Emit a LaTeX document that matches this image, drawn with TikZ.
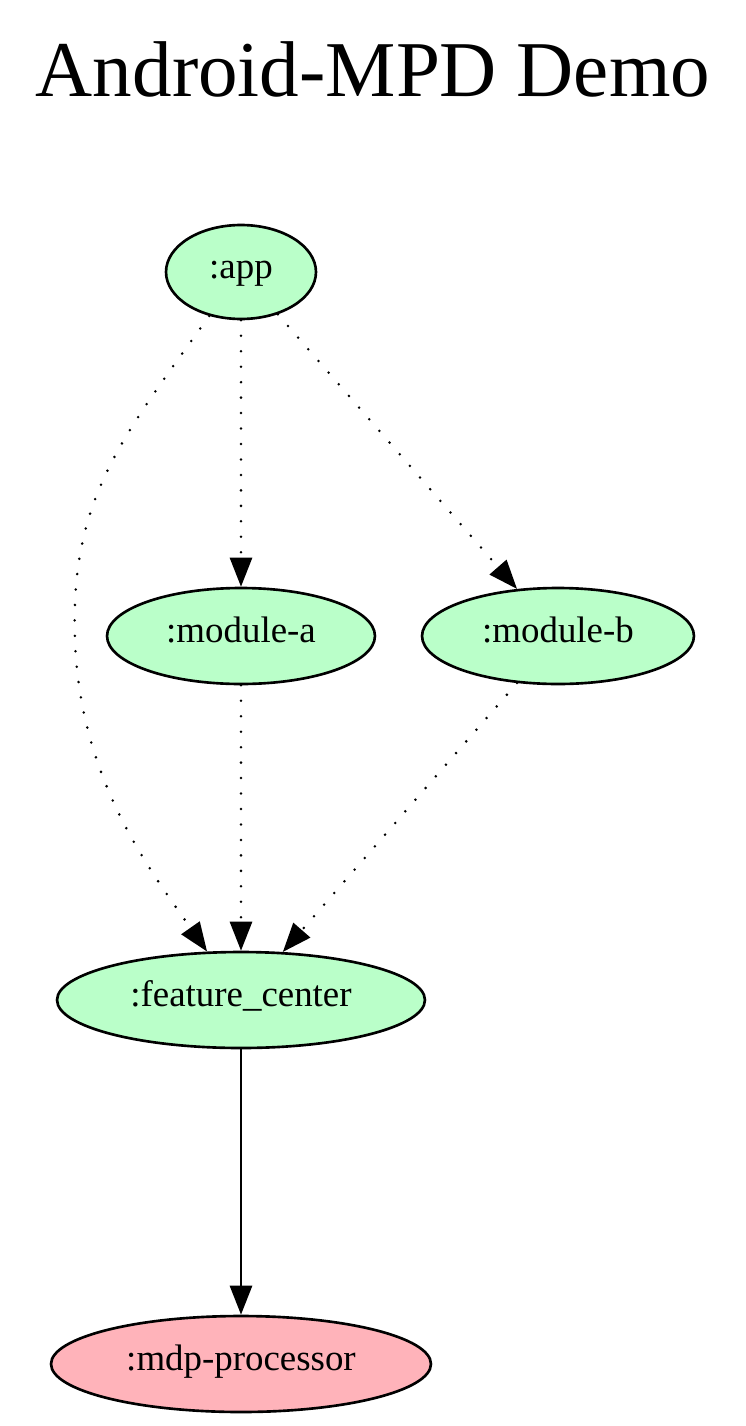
\documentclass[tikz,border=0pt]{standalone}
\usepackage{fontspec}
\setmainfont{Liberation Serif}
\usetikzlibrary{arrows.meta, positioning, shapes.geometric}
\definecolor{ModGreen}{HTML}{BAFFC9}
\definecolor{ProcPink}{HTML}{FFB3BA}

\begin{document}
\begin{tikzpicture}[x=0.02cm, y=-0.02cm,
    modnode/.style={ellipse, draw=black, line width=1.5pt, fill=ModGreen, inner sep=0pt,
        minimum height=1.92cm, font=\fontsize{21}{25}\selectfont, text height=0.9em, text depth=0.2em},
    depline/.style={line width=1.6pt, -{Triangle[length=0.58cm, width=0.44cm]}},
    dotline/.style={depline, line cap=round, dash pattern=on 0pt off 8.8pt}]
    \useasboundingbox (0,0) rectangle (746,1426);

    \node[anchor=base, font=\fontsize{45}{54}\selectfont] (title) at (373,96) {Android-MPD Demo};

    \node[modnode, minimum width=3.0cm, minimum height=1.88cm] (app) at (241,272) {:app};
    \node[modnode, minimum width=5.36cm] (moda) at (241,636) {:module-a};
    \node[modnode, minimum width=5.44cm] (modb) at (558,636) {:module-b};
    \node[modnode, minimum width=7.36cm] (feat) at (241,1000) {:feature\_center};
    \node[modnode, minimum width=7.6cm, fill=ProcPink] (proc) at (241,1364) {:mdp-processor};

    \coordinate (bend) at (75,640);

    \draw[dotline] (app) -- (moda);
    \draw[dotline] (app) -- (modb);
    \draw[dotline] (app) .. controls (120,440) and (70,500) .. (bend)
        .. controls (80,780) and (150,870) .. (feat);
    \draw[dotline] (moda) -- (feat);
    \draw[dotline] (modb) -- (feat);
    \draw[depline] (feat) -- (proc);
\end{tikzpicture}
\end{document}
